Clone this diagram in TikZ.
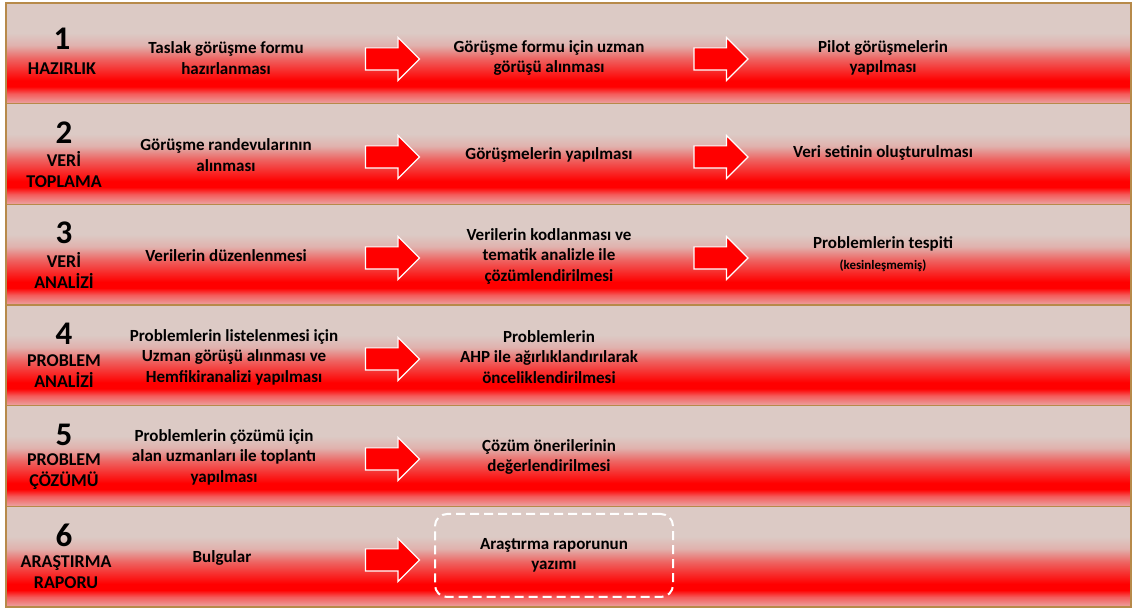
\documentclass[tikz,border=0pt]{standalone}
\usepackage{fontspec}
\setmainfont{Carlito}
\usetikzlibrary{shapes.arrows}
\usetikzlibrary{positioning}

\definecolor{bandrose}{RGB}{220,202,197}
\definecolor{bandpink}{RGB}{235,165,163}
\definecolor{bandline}{RGB}{183,138,74}
\definecolor{bandred}{RGB}{255,0,0}

\pgfdeclareverticalshading{bandshade}{100bp}{color(0bp)=(bandpink); color(25bp)=(bandpink);
  color(30bp)=(bandred!45!bandpink); color(33.5bp)=(bandred); color(36.5bp)=(bandred);
  color(41bp)=(bandred!80!bandrose); color(47.5bp)=(bandred!50!bandrose);
  color(54bp)=(bandred!12!bandrose); color(60bp)=(bandrose); color(100bp)=(bandrose)}

\tikzset{
  band/.style={draw=bandline,line width=1.5pt,shade,shading=bandshade},
  stepnum/.style={font=\bfseries\fontsize{33}{33}\selectfont,inner sep=0pt},
  steplabel/.style={font=\bfseries\fontsize{18}{20.5}\selectfont,align=center,inner sep=0pt},
  task/.style={font=\bfseries\fontsize{17}{20.5}\selectfont,align=center,inner sep=0pt},
  blockarrow/.style={single arrow,fill=bandred,draw=white,line width=1.2pt,inner xsep=0pt,
    inner ysep=10.5pt,minimum height=54pt,single arrow head extend=10.5pt,
    single arrow tip angle=90},
  reportbox/.style={draw=white,line width=2pt,dash pattern=on 9pt off 5pt,rounded corners=12pt,
    minimum width=238pt,minimum height=83pt,font=\bfseries\fontsize{17}{20.5}\selectfont,align=center}
}

\begin{document}
\begin{tikzpicture}[x=1pt,y=1pt]
\useasboundingbox (0,0) rectangle (1133,610);
\foreach \i in {1,...,6}
  \path[band] (6,{607-100.67*\i}) rectangle (1131,{607-100.67*(\i-1)});

% 1
\node[stepnum] (n1) at (62,571) {1};
\node[steplabel] (l1) at (62,541) {HAZIRLIK};
\node[task] (t11) at (226,552) {Taslak görüşme formu\\hazırlanması};
\node[blockarrow] (a11) at (387,551) {};
\node[task] (t12) at (549,552) {Görüşme formu için uzman\\görüşü alınması};
\node[blockarrow] (a12) at (715.5,551) {};
\node[task] (t13) at (883,552) {Pilot görüşmelerin\\yapılması};

% 2
\node[stepnum] (n2) at (64,477.5) {2};
\node[steplabel] (l2) at (64,440.5) {VERİ\\TOPLAMA};
\node[task] (t21) at (226,455) {Görüşme randevularının\\alınması};
\node[blockarrow] (a21) at (387,453) {};
\node[task] (t22) at (549,455) {Görüşmelerin yapılması};
\node[blockarrow] (a22) at (715.5,453) {};
\node[task] (t23) at (883,457) {Veri setinin oluşturulması};

% 3
\node[stepnum] (n3) at (64,377) {3};
\node[steplabel] (l3) at (64,339.7) {VERİ\\ANALİZİ};
\node[task] (t31) at (226,354) {Verilerin düzenlenmesi};
\node[blockarrow] (a31) at (387,352) {};
\node[task] (t32) at (549,354) {Verilerin kodlanması ve\\tematik analizle ile\\çözümlendirilmesi};
\node[blockarrow] (a32) at (715.5,352) {};
\node[task] (t33) at (883,356) {Problemlerin tespiti\\{\fontsize{13}{18}\selectfont(kesinleşmemiş)}};

% 4
\node[stepnum] (n4) at (64,276) {4};
\node[steplabel] (l4) at (64,239) {PROBLEM\\ANALİZİ};
\node[task] (t41) at (234,253) {Problemlerin listelenmesi için\\Uzman görüşü alınması ve\\Hemfikiranalizi yapılması};
\node[blockarrow] (a41) at (387,251) {};
\node[task] (t42) at (549,253) {Problemlerin\\AHP ile ağırlıklandırılarak\\önceliklendirilmesi};

% 5
\node[stepnum] (n5) at (64,175.5) {5};
\node[steplabel] (l5) at (64,138.3) {PROBLEM\\ÇÖZÜMÜ};
\node[task] (t51) at (224,153) {Problemlerin çözümü için\\alan uzmanları ile toplantı\\yapılması};
\node[blockarrow] (a51) at (387,151) {};
\node[task] (t52) at (549,153) {Çözüm önerilerinin\\değerlendirilmesi};

% 6
\node[stepnum] (n6) at (64,75) {6};
\node[steplabel] (l6) at (66,37.7) {ARAŞTIRMA\\RAPORU};
\node[task] (t61) at (222,52) {Bulgular};
\node[blockarrow] (a61) at (387,50) {};
\node[reportbox] (t62) at (554,54.5) {Araştırma raporunun\\yazımı};
\end{tikzpicture}
\end{document}
